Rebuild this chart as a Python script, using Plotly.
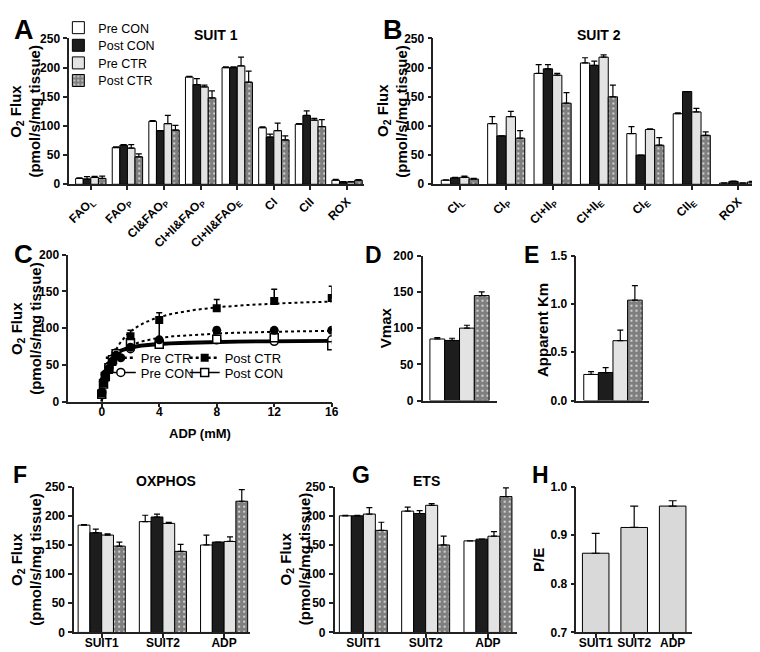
import plotly.graph_objects as go

# ---------------- data ----------------
groups = ["Pre CON", "Post CON", "Pre CTR", "Post CTR"]

# Panel A - SUIT 1
suit1_labels = ["FAO<sub>L</sub>", "FAO<sub>P</sub>", "CI&FAO<sub>P</sub>", "CI+II&FAO<sub>P</sub>",
                "CI+II&FAO<sub>E</sub>", "CI", "CII", "ROX"]
suit1_pre_con = [10, 63, 108, 184, 200, 97, 103, 7]
suit1_post_con = [9, 67, 92, 171, 200, 81, 118, 4]
suit1_pre_ctr = [12, 62, 104, 167, 203, 92, 110, 4]
suit1_post_ctr = [10, 47, 93, 148, 175, 76, 99, 7]
suit1_pre_con_err = [1, 1, 1, 1, 1.5, 1.5, 1, 1.5]
suit1_post_con_err = [4, 1, 0, 10, 1.5, 5, 8, 0.5]
suit1_pre_ctr_err = [1.5, 6, 14, 3, 15, 13, 3, 0.5]
suit1_post_ctr_err = [4, 5, 8, 12, 19, 7, 12, 1]

# Panel B - SUIT 2
suit2_labels = ["CI<sub>L</sub>", "CI<sub>P</sub>", "CI+II<sub>P</sub>", "CI+II<sub>E</sub>",
                "CI<sub>E</sub>", "CII<sub>E</sub>", "ROX"]
suit2_pre_con = [7, 104, 190, 208, 87, 121, 2]
suit2_post_con = [11, 83, 198, 204, 50, 159, 5]
suit2_pre_ctr = [12, 116, 187, 218, 94, 124, 2]
suit2_post_ctr = [9, 79, 139, 150, 67, 84, 4]
suit2_pre_con_err = [0.5, 12, 15, 9, 12, 1.5, 0.5]
suit2_post_con_err = [1, 0, 7, 7, 0, 0, 0.5]
suit2_pre_ctr_err = [2, 9, 3, 4, 1, 6, 0.5]
suit2_post_ctr_err = [1, 13, 18, 20, 13, 6, 1]

# Panel C - ADP titration
adp_mM = [0, 0.125, 0.25, 0.5, 0.75, 1, 2, 4, 8, 12, 16]
adp_pre_ctr = [13, 28, 36, 45, 55, 63, 74, 84, 97, 97, 97]
adp_pre_ctr_err = [0, 0, 0, 0, 0, 0, 0, 25, 4, 2, 2]
adp_post_ctr = [11, 25, 33, 43, 54, 62, 89, 111, 127, 137, 141]
adp_post_ctr_err = [0, 0, 0, 0, 0, 0, 8, 10, 12, 16, 16]
adp_pre_con = [12, 27, 37, 48, 58, 66, 72, 80, 84, 82, 84]
adp_post_con = [10, 24, 34, 46, 57, 65, 80, 78, 85, 87, 76]
adp_ticks = [0, 4, 8, 12, 16]

# Panel D / E - kinetic parameters (Pre CON, Post CON, Pre CTR, Post CTR)
vmax = [85, 83, 100, 145]
vmax_err = [2, 3, 4, 5]
km = [0.27, 0.29, 0.62, 1.04]
km_err = [0.03, 0.05, 0.11, 0.15]

# Panel F - OXPHOS, Panel G - ETS
cmp_labels = ["SUIT1", "SUIT2", "ADP"]
ox_pre_con = [184, 190, 150]; ox_pre_con_err = [1, 11, 17]
ox_post_con = [171, 198, 155]; ox_post_con_err = [6, 5, 0]
ox_pre_ctr = [167, 187, 156]; ox_pre_ctr_err = [2, 2, 8]
ox_post_ctr = [148, 139, 225]; ox_post_ctr_err = [7, 12, 20]
ets_pre_con = [200, 208, 157]; ets_pre_con_err = [1, 7, 0]
ets_post_con = [200, 204, 160]; ets_post_con_err = [1, 5, 0]
ets_pre_ctr = [203, 218, 165]; ets_pre_ctr_err = [11, 3, 8]
ets_post_ctr = [175, 150, 233]; ets_post_ctr_err = [14, 15, 15]

# Panel H - P/E
pe_ratio = [0.863, 0.916, 0.960]
pe_err = [0.041, 0.044, 0.011]

# ---------------- helpers ----------------
W, H = 760, 652
def X(px): return px / W
def Y(py): return 1 - py / H

FONT = "Arial, Liberation Sans, sans-serif"
BAR_STYLES = [
    dict(color="white"),
    dict(color="#1d1d1d"),
    dict(color="#e3e3e3"),
    dict(color="white", pattern=dict(shape="+", fgcolor="black", bgcolor="white", size=5, solidity=0.88)),
]
A_LEGENDS = ["legend", "legend2", "legend3", "legend4"]

fig = go.Figure()

def add_grouped(xa, ya, n, series, errs, gw, legend=False):
    w = gw / 4
    xs = list(range(n))
    for i, (vals, er) in enumerate(zip(series, errs)):
        fig.add_trace(go.Bar(
            x=xs, y=vals, width=w, offset=-gw / 2 + i * w,
            marker=dict(**BAR_STYLES[i], line=dict(color="black", width=1)),
            error_y=dict(type="data", symmetric=False, array=er, arrayminus=[0] * n,
                         color="black", thickness=1.2, width=3),
            xaxis=xa, yaxis=ya, name=groups[i], showlegend=legend, legend=A_LEGENDS[i],
        ))

# A
add_grouped("x", "y", len(suit1_labels),
            [suit1_pre_con, suit1_post_con, suit1_pre_ctr, suit1_post_ctr],
            [suit1_pre_con_err, suit1_post_con_err, suit1_pre_ctr_err, suit1_post_ctr_err], 0.83, legend=True)
# B
add_grouped("x2", "y2", len(suit2_labels),
            [suit2_pre_con, suit2_post_con, suit2_pre_ctr, suit2_post_ctr],
            [suit2_pre_con_err, suit2_post_con_err, suit2_pre_ctr_err, suit2_post_ctr_err], 0.8)

# C - fitted Michaelis-Menten curves from panel D/E parameters
s_grid = [i * 0.02 for i in range(0, 801)]
curve_styles = [("solid", 2.2), ("solid", 2.2), ("dot", 2), ("dot", 2)]
for k in [2, 3, 0, 1]:
    fig.add_trace(go.Scatter(
        x=s_grid, y=[vmax[k] * s / (km[k] + s) for s in s_grid], mode="lines",
        line=dict(color="black", dash=curve_styles[k][0], width=curve_styles[k][1]),
        xaxis="x3", yaxis="y3", showlegend=False, hoverinfo="skip"))

pt_defs = [
    ("Pre CON", adp_pre_con, None, dict(symbol="circle", size=8, color="white", line=dict(color="black", width=1.5)), "solid", "legend7"),
    ("Post CON", adp_post_con, None, dict(symbol="square", size=8, color="white", line=dict(color="black", width=1.5)), "solid", "legend8"),
    ("Pre CTR", adp_pre_ctr, adp_pre_ctr_err, dict(symbol="circle", size=9, color="black"), "dot", "legend5"),
    ("Post CTR", adp_post_ctr, adp_post_ctr_err, dict(symbol="square", size=8, color="black"), "dot", "legend6"),
]
for name, vals, er, mk, dash, lg in pt_defs:
    ey = None
    if er is not None:
        ey = dict(type="data", symmetric=False, array=er, arrayminus=[0] * len(er),
                  color="black", thickness=1.5, width=3)
    fig.add_trace(go.Scatter(x=adp_mM, y=vals, mode="markers", marker=mk, error_y=ey,
                             xaxis="x3", yaxis="y3", showlegend=False))
# legend entries for C
for name, vals, er, mk, dash, lg in pt_defs:
    fig.add_trace(go.Scatter(x=[None], y=[None], mode="lines+markers", marker=mk,
                             line=dict(color="black", dash=dash, width=1.5 if dash == "solid" else 2.5),
                             name=name, legend=lg, showlegend=True, xaxis="x3", yaxis="y3"))

# D, E
for ax, vals, er in [("4", vmax, vmax_err), ("5", km, km_err)]:
    add_grouped("x" + ax, "y" + ax, 1, [[v] for v in vals], [[e] for e in er], 0.8)

# F, G
add_grouped("x6", "y6", 3, [ox_pre_con, ox_post_con, ox_pre_ctr, ox_post_ctr],
            [ox_pre_con_err, ox_post_con_err, ox_pre_ctr_err, ox_post_ctr_err], 0.77)
add_grouped("x7", "y7", 3, [ets_pre_con, ets_post_con, ets_pre_ctr, ets_post_ctr],
            [ets_pre_con_err, ets_post_con_err, ets_pre_ctr_err, ets_post_ctr_err], 0.77)

# H
fig.add_trace(go.Bar(x=list(range(3)), y=pe_ratio, width=0.69, base=0,
                     marker=dict(color="#d9d9d9", line=dict(color="black", width=1)),
                     error_y=dict(type="data", symmetric=False, array=pe_err, arrayminus=[0] * 3,
                                  color="black", thickness=1.2, width=4),
                     xaxis="x8", yaxis="y8", showlegend=False))

# ---------------- axes ----------------
tf = dict(family=FONT, size=12, color="black", weight="bold")
def yax(top, bot, left, rng, dtick, fmt=None, anchor="x"):
    d = dict(domain=[Y(bot), Y(top)], anchor=anchor, range=rng, dtick=dtick, tick0=rng[0],
             showline=True, linecolor="#222", linewidth=1.5, ticks="outside", ticklen=4,
             tickwidth=1.5, tickcolor="#222", tickfont=tf, showgrid=False, zeroline=False,
             ticklabelstandoff=1)
    if fmt:
        d["tickformat"] = fmt
    return d
def xax(left, right, rng, anchor, tickvals=None, ticktext=None, angle=0, fsize=12, standoff=0):
    d = dict(domain=[X(left), X(right)], anchor=anchor, range=rng, showline=True,
             linecolor="#222", linewidth=1.5, showgrid=False, zeroline=False,
             tickfont=dict(family=FONT, size=fsize, color="black", weight="bold"))
    if tickvals is None:
        d.update(showticklabels=False, ticks="")
    else:
        d.update(tickmode="array", tickvals=tickvals, ticktext=ticktext, ticks="outside",
                 ticklen=4, tickwidth=1.5, tickcolor="#222", tickangle=angle,
                 ticklabelstandoff=standoff)
    return d

def leg(x, top, size):
    return dict(x=X(x), y=Y(top), xanchor="left", yanchor="top", font=dict(size=size, family=FONT),
                bgcolor="rgba(0,0,0,0)", itemwidth=30)

fig.update_layout(
    width=W, height=H, margin=dict(l=0, r=0, t=0, b=0),
    paper_bgcolor="white", plot_bgcolor="white", barmode="overlay",
    font=dict(family=FONT, color="black"),
    xaxis=xax(59, 358, [-0.59, 7.47], "y", list(range(8)), suit1_labels, -45, 12),
    yaxis=yax(24, 173, 59, [0, 250], 50, anchor="x"),
    xaxis2=xax(428, 758, [-0.57, 6.45], "y2", list(range(7)), suit2_labels, -45, 12),
    yaxis2=yax(24, 173, 428, [0, 250], 50, anchor="x2"),
    xaxis3=xax(58, 325, [-2.33, 16], "y3", adp_ticks, [str(t) for t in adp_ticks], standoff=-6),
    yaxis3=yax(245, 395, 58, [0, 200], 50, anchor="x3"),
    xaxis4=xax(417, 492, [-0.5, 0.5], "y4"),
    yaxis4=yax(246, 394, 417, [0, 200], 50, anchor="x4"),
    xaxis5=xax(573, 647, [-0.5, 0.5], "y5"),
    yaxis5=yax(246, 394, 573, [0, 1.5], 0.5, ".1f", anchor="x5"),
    xaxis6=xax(64, 242, [-0.45, 2.42], "y6", [0, 1, 2], cmp_labels, standoff=-6),
    yaxis6=yax(482, 631, 64, [0, 250], 50, anchor="x6"),
    xaxis7=xax(328, 513, [-0.46, 2.47], "y7", [0, 1, 2], cmp_labels, standoff=-6),
    yaxis7=yax(482, 631, 328, [0, 250], 50, anchor="x7"),
    xaxis8=xax(573, 690, [-0.5, 2.5], "y8", [0, 1, 2], cmp_labels, standoff=-6),
    yaxis8=yax(482, 631, 573, [0.7, 1.0], 0.1, ".1f", anchor="x8"),
    legend=leg(48, -2, 12.5),
    legend2=leg(48, 16, 12.5),
    legend3=leg(48, 34, 12.5),
    legend4=leg(48, 52, 12.5),
    legend5=leg(91, 335, 13),
    legend6=leg(176, 335, 13),
    legend7=leg(91, 350, 13),
    legend8=leg(176, 350, 13),
)

# ---------------- annotations ----------------
ann = []
def txt(x, y, t, size, angle=0, bold=True):
    ann.append(dict(x=X(x), y=Y(y), xref="paper", yref="paper", text=t, showarrow=False,
                    xanchor="center", yanchor="middle", textangle=angle,
                    font=dict(family=FONT, size=size, color="black", weight="bold" if bold else "normal")))

for letter, x, y, s in [("A", 13, 15, 27), ("B", 387, 15, 27), ("C", 13, 244, 26), ("D", 367, 245, 23),
                        ("E", 527, 245, 23), ("F", 9, 470, 23), ("G", 355, 470, 23), ("H", 537, 470, 23)]:
    txt(x, y, letter, s)

for t, x, y in [("SUIT 1", 208, 20), ("SUIT 2", 596, 20), ("OXPHOS", 157, 476), ("ETS", 421, 476)]:
    txt(x, y, t, 14)

for x, y in [(6, 98), (378, 98), (6, 320), (6, 556), (279, 556)]:
    txt(x, y, "O<sub>2</sub> Flux", 15, -90)
    txt(x + 18, y, "(pmol/s/mg tissue)", 15, -90)
txt(379, 320, "Vmax", 15, -90)
txt(538, 322, "Apparent Km", 15, -90)
txt(534, 557, "P/E", 15, -90)
txt(192, 428, "ADP (mM)", 13)

fig.update_layout(annotations=ann)
fig.write_html("out.html")
